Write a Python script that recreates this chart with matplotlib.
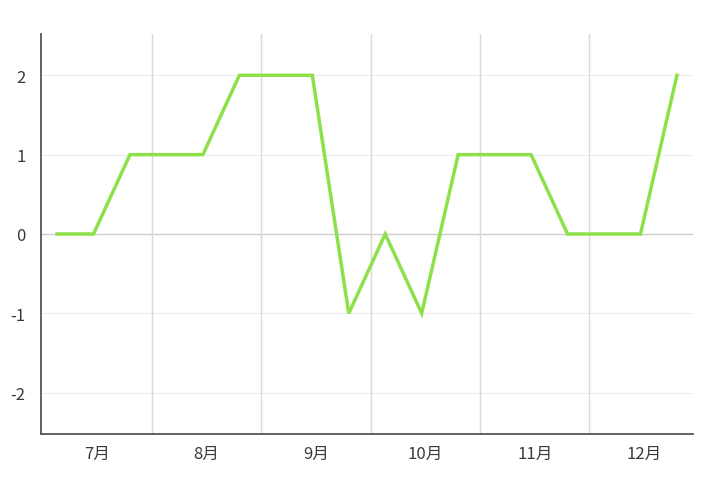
import matplotlib
matplotlib.use("Agg")
import matplotlib.pyplot as plt
from matplotlib.ticker import FixedLocator, FuncFormatter

plt.rcParams['font.family'] = ['Noto Sans CJK SC', 'DejaVu Sans']
plt.rcParams['axes.unicode_minus'] = False

months = ['7月', '8月', '9月', '10月', '11月', '12月']
values = [0, 0, 1, 1, 1, 2, 2, 2, -1, 0, -1, 1, 1, 1, 0, 0, 0, 2]
y_ticks = [-2, -1, 0, 1, 2]

fig = plt.figure(figsize=(7.2, 4.89), dpi=100)
ax = fig.add_axes([41/720, 54/489, (693-41)/720, (435-35)/489])

x = list(range(len(values)))
n_per = len(values) // len(months)

# grid
for yv in y_ticks:
    ax.axhline(yv, color='#cccccc' if yv == 0 else '#ededed', lw=1.0 if yv == 0 else 0.8, zorder=1)
for i in range(1, len(months)):
    ax.axvline(i * n_per - 0.4, color='#d8d8d8', lw=1.0, zorder=1)

ax.plot(x, values, color='#8ee04a', lw=2.5, solid_joinstyle='miter', zorder=3)

ax.set_xlim(-0.44, len(values) - 1 + 0.44)
ax.set_ylim(-2.52, 2.52)
ax.xaxis.set_major_locator(FixedLocator([i * n_per + 1.1 for i in range(len(months))]))
ax.set_xticklabels(months)
ax.yaxis.set_major_locator(FixedLocator(y_ticks))
ax.yaxis.set_major_formatter(FuncFormatter(lambda v, p: f"{int(v)}"))
ax.tick_params(axis='both', length=0, labelsize=12, colors='#3a3a3a')
ax.tick_params(axis='x', pad=8)
ax.tick_params(axis='y', pad=11)

for s in ['top', 'right']:
    ax.spines[s].set_visible(False)
for s in ['left', 'bottom']:
    ax.spines[s].set_color('#555555')
    ax.spines[s].set_linewidth(1.3)

fig.savefig('out.png', dpi=100, facecolor='white')
